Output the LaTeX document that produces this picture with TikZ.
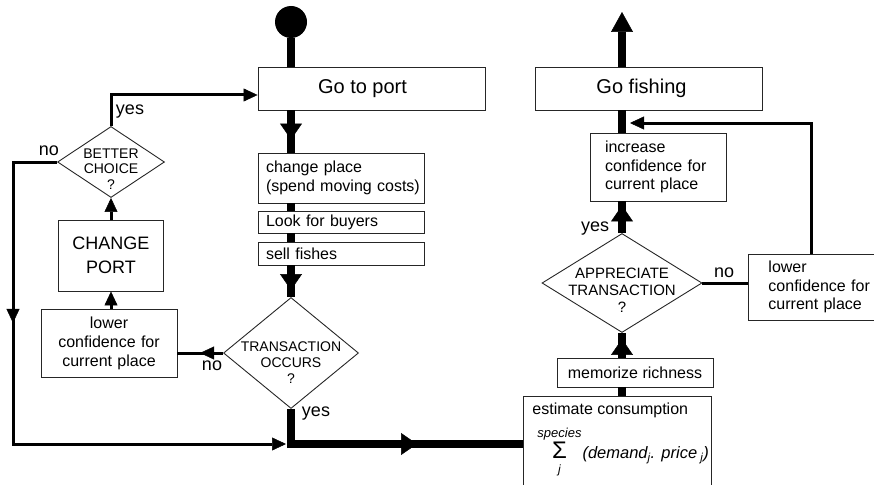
\documentclass[tikz,border=0pt]{standalone}
\usepackage{amsmath}
\usepackage{fontspec}
\setmainfont{Liberation Sans}
\usetikzlibrary{shapes.geometric,arrows.meta,decorations.markings}

\begin{document}
\begin{tikzpicture}[x=1pt,y=-1pt,
    box/.style={draw=black!85,line width=0.9pt,inner sep=0pt,font=\fontsize{16}{18.5}\selectfont},
    cond/.style={diamond,draw=black!85,line width=0.9pt,inner sep=0pt},
    lbl/.style={font=\fontsize{18}{18}\selectfont,inner sep=0pt},
    fat/.style={line width=8pt},
    link/.style={line width=3pt},
    bigtip/.style={-{Triangle[width=22pt,length=20pt,line width=0.5pt]}},
    smalltip/.style={-{Triangle[width=13pt,length=14pt,line width=0.5pt]}},
    fatmark/.style={postaction={decorate,decoration={markings,
        mark=at position #1 with {\arrow{Triangle[width=22pt,length=16pt,line width=0.5pt]}}}}},
    linkmark/.style={postaction={decorate,decoration={markings,
        mark=at position #1 with {\arrow{Triangle[width=13pt,length=14pt,line width=0.5pt]}}}}}]
    \useasboundingbox (0,0) rectangle (874,484);
    % port side
    \node[circle,fill,minimum size=32pt,inner sep=0pt] (start) at (291,22) {};
    \node[box,minimum width=227pt,minimum height=43pt,font=\fontsize{20}{22}\selectfont] (goport) at (371.5,88.5) {Go to port\hspace*{18pt}};
    \node[box,minimum width=166pt,minimum height=50pt,text width=150pt,align=left] (place) at (341,178) {change place\\\mbox{(spend moving costs)}};
    \node[box,minimum width=166pt,minimum height=22pt,text width=150pt,align=left] (buyers) at (341,222) {Look for buyers};
    \node[box,minimum width=166pt,minimum height=23pt,text width=150pt,align=left] (sell) at (341,253.5) {sell fishes};
    \node[cond,minimum width=135pt,minimum height=111pt,
        label={[font=\fontsize{14}{16}\selectfont,align=center,yshift=-10pt]center:TRANSACTION\\OCCURS\\?}] (trans) at (291,353) {};
    \node[box,minimum width=136pt,minimum height=68pt,text width=130pt,align=center,font=\fontsize{16}{19}\selectfont] (lowerport) at (109,343) {lower\\confidence for\\current place};
    \node[box,minimum width=105pt,minimum height=71pt,align=center,font=\fontsize{18}{24}\selectfont] (changeport) at (111,255.5) {CHANGE\\PORT};
    \node[cond,minimum width=107pt,minimum height=71pt,
        label={[font=\fontsize{14}{15.5}\selectfont,align=center,yshift=-7pt]center:BETTER\\CHOICE\\?}] (better) at (111,162) {};
    % fishing side
    \node[box,minimum width=227pt,minimum height=43pt,font=\fontsize{20}{22}\selectfont] (gofish) at (648.5,88.5) {Go fishing\hspace*{14pt}};
    \node[box,minimum width=136pt,minimum height=68pt,text width=106pt,align=left] (increase) at (658,167) {increase\\confidence for\\current place};
    \node[cond,minimum width=160pt,minimum height=99pt,
        label={[font=\fontsize{15}{17}\selectfont,align=center,yshift=-7pt]center:APPRECIATE\\TRANSACTION\\?}] (appr) at (622,283) {};
    \node[box,anchor=west,inner xsep=20pt,minimum height=66pt,text width=110pt,align=left] (lowerfish) at (748,287) {lower\\confidence for\\current place};
    \node[box,minimum width=156pt,minimum height=29pt] (memo) at (635,372.5) {memorize richness};
    \node[box,anchor=north west,inner xsep=9pt,inner ysep=6pt] (estimate) at (523,396) {\parbox[t][100pt][t]{170pt}{estimate consumption\\[8pt]
        \mbox{\hspace*{5pt}$\mathop{\hbox{\fontsize{24}{24}\selectfont Σ}}\limits_{\hbox{\fontsize{12}{12}\selectfont\itshape\rule{0pt}{12pt}j}}^{\hbox{\fontsize{13}{13}\selectfont\itshape species}}$\hspace{1pt}{\fontsize{16.5}{18}\selectfont\itshape (demand\textsubscript{j}. price\textsubscript{ j})}}}};
    \coordinate (join) at (291,444);
    \coordinate (corner) at (13,444);
    \coordinate (fbtip) at (630,123);
    \coordinate (exit) at (622,12);
    % connectors
    \draw[fat] (start) -- (goport.north -| start);
    \draw[fat,fatmark=-13pt] (goport.south -| start) -- (place.north -| start);
    \draw[fat] (place.south -| start) -- (buyers.north -| start);
    \draw[fat] (buyers.south -| start) -- (sell.north -| start);
    \draw[fat,fatmark=-7pt] (sell.south -| start) -- (trans.north);
    \draw[link,linkmark=23pt] (trans.west) -- (trans.west -| lowerport.east);
    \draw[link,smalltip] (lowerport.north -| changeport) -- (changeport.south);
    \draw[link,smalltip] (changeport.north) -- (better.south);
    \draw[link,smalltip] (better.north) |- ([yshift=-6.5pt]goport.west);
    \draw[link,smalltip,linkmark=205pt] (better.west) -| (corner) -- ([xshift=-5pt]join);
    \draw[fat,fatmark=-106pt] (trans.south) |- (estimate.west |- join);
    \draw[fat] (estimate.north -| appr) -- (memo.south -| appr);
    \draw[fat,fatmark=-6pt] (memo.north -| appr) -- (appr.south);
    \draw[link] (appr.east) -- (appr.east -| lowerfish.west);
    \draw[link,smalltip] ([xshift=-12pt]lowerfish.north) |- (fbtip);
    \draw[fat,fatmark=-4pt] (appr.north) -- (increase.south -| appr);
    \draw[fat] (increase.north -| appr) -- (gofish.south -| appr);
    \draw[fat,bigtip] (gofish.north -| appr) -- (exit);
    % branch labels
    \node[lbl] (yes1) at (130,112) {yes};
    \node[lbl] (no1) at (49,151) {no};
    \node[lbl] (no2) at (212,366) {no};
    \node[lbl] (yes2) at (316,414) {yes};
    \node[lbl] (yes3) at (595,229) {yes};
    \node[lbl] (no3) at (724,273) {no};
\end{tikzpicture}
\end{document}
